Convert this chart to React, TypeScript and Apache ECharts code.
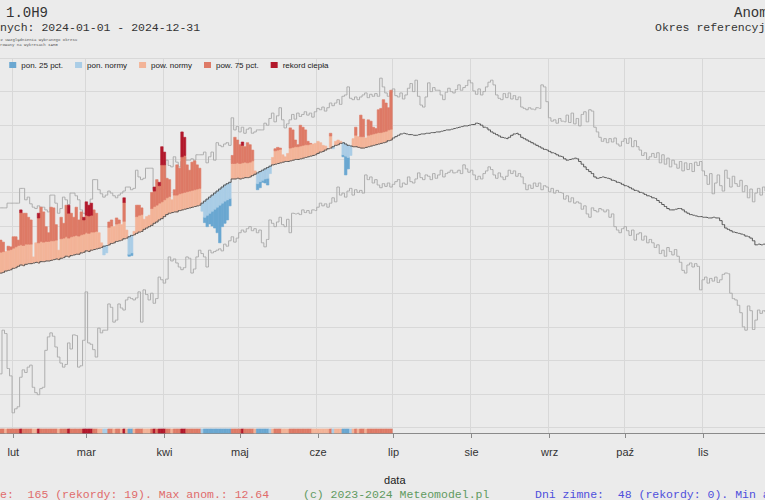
import React, { useEffect, useRef } from "react";
import * as echarts from "echarts";

// ---------- data ----------
const MONTHS = ["sty", "lut", "mar", "kwi", "maj", "cze", "lip", "sie", "wrz", "paź", "lis", "gru"];
const LINE_START = 24; // day index of first value (0 = 2024-01-01)
const DATA_START = 24;

// climatological normal (dark line), °C
const NORMAL = [
  -2.2, -2.1, -2.0, -1.9, -1.7, -1.6, -1.5, -1.3, -1.2, -1.0,
  -0.8, -0.9, -0.7, -0.6, -0.6, -0.5, -0.4, -0.5, -0.3, -0.3,
  -0.2, -0.2, -0.1, 0.0, 0.1, 0.0, 0.2, 0.3, 0.5, 0.4,
  0.6, 0.7, 0.8, 0.8, 1.0, 1.1, 1.3, 1.2, 1.4, 1.5,
  1.6, 1.7, 1.8, 2.0, 2.1, 2.2, 2.4, 2.5, 2.7, 2.8,
  2.9, 3.1, 3.2, 3.4, 3.6, 3.7, 3.9, 4.1, 4.2, 4.5,
  4.7, 4.9, 5.1, 5.4, 5.6, 5.9, 6.1, 6.4, 6.7, 6.9,
  7.0, 7.1, 7.1, 7.3, 7.4, 7.5, 7.6, 7.7, 7.8, 7.9,
  8.0, 8.1, 8.4, 8.7, 9.0, 9.3, 9.6, 9.9, 10.2, 10.5,
  10.8, 11.1, 11.3, 11.5, 12.0, 12.0, 12.1, 12.0, 12.1, 12.2,
  12.2, 12.3, 12.5, 12.7, 12.9, 13.1, 13.3, 13.5, 13.7, 13.9,
  14.1, 14.2, 14.3, 14.4, 14.5, 14.6, 14.6, 14.7, 14.8, 14.9,
  14.9, 15.0, 15.1, 15.2, 15.3, 15.4, 15.5, 15.6, 15.8, 16.0,
  16.1, 16.3, 16.5, 16.6, 16.8, 17.0, 17.1, 17.3, 17.4, 17.2,
  17.0, 16.9, 16.8, 16.8, 16.7, 16.6, 16.6, 16.7, 16.8, 16.9,
  17.0, 17.1, 17.2, 17.3, 17.4, 17.5, 17.7, 17.8, 18.1, 18.3,
  18.5, 18.7, 18.8, 18.7, 18.6, 18.6, 18.5, 18.5, 18.6, 18.7,
  18.7, 18.8, 18.8, 18.9, 18.9, 19.0, 19.0, 19.1, 19.2, 19.3,
  19.3, 19.4, 19.5, 19.6, 19.7, 19.8, 19.9, 19.9, 20.0, 20.1,
  20.1, 20.3, 20.2, 20.0, 19.7, 19.6, 19.3, 19.0, 18.8, 18.6,
  18.4, 18.2, 18.1, 18.0, 18.2, 18.5, 18.7, 18.8, 18.6, 18.2,
  18.0, 17.8, 17.6, 17.4, 17.2, 17.0, 16.8, 16.6, 16.4, 16.3,
  16.1, 15.9, 15.8, 15.6, 15.4, 15.3, 15.0, 14.8, 14.9, 15.0,
  15.1, 15.0, 14.6, 14.2, 13.8, 13.4, 13.1, 12.8, 12.3, 12.1,
  12.2, 12.3, 12.2, 12.1, 12.0, 11.8, 11.7, 11.5, 11.4, 11.2,
  11.0, 10.9, 10.7, 10.5, 10.3, 10.2, 10.0, 9.9, 9.7, 9.5,
  9.4, 9.2, 9.1, 8.8, 8.5, 8.2, 7.9, 7.6, 7.4, 7.4,
  7.5, 7.6, 7.6, 7.4, 7.1, 6.9, 6.7, 6.6, 6.5, 6.4,
  6.4, 6.3, 6.3, 6.2, 6.2, 6.3, 6.2, 6.2, 5.8, 5.2,
  4.7, 4.5, 4.3, 4.1, 4.0, 3.9, 3.8, 3.7, 3.5, 3.4,
  3.2, 2.8, 2.2, 2.3, 2.2, 2.3, 2.2,
];

// upper grey line (daily maximum of reference period), °C
const UPPER = [
  7.5, 7.7, 7.7, 7.7, 7.7, 8.4, 8.4, 8.4, 8.4, 8.4,
  10.6, 10.6, 8.9, 9.3, 8.3, 7.8, 7.6, 8.0, 7.8, 7.8,
  7.4, 7.1, 9.6, 9.6, 8.4, 6.9, 7.6, 9.3, 8.9, 8.2,
  9.9, 9.9, 9.5, 8.9, 7.4, 6.9, 6.9, 7.6, 9.0, 11.9,
  11.9, 10.4, 9.8, 9.3, 9.6, 10.2, 9.9, 9.5, 9.2, 9.6,
  9.9, 10.2, 10.8, 10.8, 10.4, 10.6, 13.3, 12.3, 11.9, 12.1,
  13.6, 13.6, 13.6, 10.4, 10.4, 10.6, 10.4, 10.5, 14.8, 14.0,
  13.8, 15.3, 14.5, 13.8, 14.6, 15.3, 14.8, 14.8, 15.0, 14.8,
  15.6, 15.6, 15.6, 16.0, 14.4, 15.3, 16.0, 14.8, 17.4, 17.0,
  16.8, 17.2, 17.4, 17.0, 21.1, 19.3, 19.8, 19.0, 19.7, 18.8,
  19.4, 19.6, 18.8, 19.0, 19.3, 19.3, 19.3, 20.3, 20.0, 21.0,
  21.8, 20.5, 21.4, 22.6, 20.8, 19.6, 20.2, 20.8, 21.6, 20.9,
  21.8, 21.3, 21.6, 22.0, 21.5, 21.8, 21.2, 22.0, 22.5, 22.3,
  22.7, 22.1, 22.6, 23.3, 22.9, 23.3, 23.8, 23.1, 24.3, 24.5,
  25.7, 24.0, 23.8, 24.2, 23.8, 24.2, 24.5, 24.8, 24.1, 24.6,
  24.3, 24.7, 24.3, 27.0, 25.7, 24.8, 24.3, 24.9, 25.4, 24.4,
  24.2, 24.8, 23.9, 24.5, 25.5, 26.2, 25.0, 26.7, 24.3, 23.0,
  22.7, 24.2, 26.3, 25.0, 25.6, 25.2, 25.2, 24.5, 23.8, 24.9,
  25.5, 25.0, 24.8, 25.3, 26.0, 25.2, 25.6, 25.9, 26.7, 26.3,
  25.1, 24.6, 25.4, 24.5, 25.0, 25.7, 26.4, 26.7, 26.0, 24.5,
  24.0, 23.8, 24.7, 24.1, 24.8, 23.9, 24.4, 23.8, 24.2, 22.7,
  22.5, 22.3, 22.6, 22.4, 22.3, 22.6, 22.5, 26.0, 25.7, 23.5,
  21.1, 20.6, 20.8, 20.3, 21.0, 20.6, 20.5, 21.5, 20.4, 21.8,
  20.2, 21.0, 19.9, 21.6, 22.0, 20.5, 22.3, 22.1, 19.7, 19.0,
  18.2, 17.6, 18.0, 17.4, 18.0, 17.5, 18.1, 17.2, 16.9, 17.6,
  18.0, 17.3, 18.1, 16.8, 17.7, 16.8, 16.3, 15.5, 15.9, 14.9,
  15.3, 15.8, 15.2, 15.9, 14.4, 15.6, 14.2, 15.1, 13.8, 14.8,
  14.2, 13.6, 14.6, 13.2, 14.4, 13.4, 14.3, 13.1, 14.5, 14.0,
  14.6, 13.2, 12.5, 11.2, 12.8, 9.8, 11.4, 12.6, 11.0, 10.2,
  13.3, 12.1, 10.8, 12.4, 11.3, 10.9, 11.8, 10.1, 11.0, 9.2,
  10.5, 8.6, 9.9, 10.6, 9.6, 10.8, 10.2,
];

// lower grey line (daily minimum of reference period), °C
const LOWER = [
  -16.0, -15.2, -17.0, -10.5, -11.0, -16.2, -17.3, -22.8, -22.2, -21.9,
  -17.5, -16.4, -16.8, -16.0, -15.7, -19.0, -19.8, -20.1, -19.2, -19.0,
  -13.5, -11.5, -10.9, -11.4, -13.0, -14.5, -15.4, -16.0, -15.6, -12.4,
  -13.3, -11.2, -11.3, -16.0, -15.8, -12.0, -4.8, -12.4, -12.6, -13.4,
  -14.5, -10.2, -10.9, -10.5, -10.5, -6.6, -7.1, -9.3, -9.0, -6.6,
  -7.2, -7.5, -6.0, -5.6, -5.8, -6.0, -5.7, -4.8, -9.3, -4.5,
  -5.2, -6.0, -5.0, -6.5, -5.8, -2.6, -3.0, -3.5, -2.9, 0.4,
  -0.2, 0.1, -0.5, -1.1, -1.5, -1.2, 0.4, 0.2, -2.0, -1.4,
  0.4, 1.4, 0.9, 0.4, -1.1, 1.4, 1.0, 1.2, 1.4, 1.6,
  1.3, 2.3, 2.0, 2.8, 3.4, 2.6, 3.2, 4.0, 4.4, 4.1,
  4.6, 4.9, 4.3, 4.6, 4.0, 4.4, 2.5, 1.9, 3.0, 5.9,
  5.4, 4.9, 5.6, 6.3, 5.2, 4.9, 6.0, 4.0, 6.9, 6.8,
  6.9, 6.7, 7.4, 7.0, 7.3, 6.9, 7.4, 7.3, 7.8, 8.4,
  8.0, 8.3, 7.8, 8.4, 9.2, 8.6, 10.8, 9.6, 9.9, 9.3,
  10.2, 10.6, 9.6, 10.4, 10.0, 10.3, 9.9, 12.6, 11.9, 12.3,
  11.4, 11.9, 11.1, 10.7, 11.3, 10.9, 11.4, 10.8, 11.2, 11.6,
  11.9, 10.8, 11.4, 11.2, 12.3, 11.6, 11.4, 12.0, 12.9, 12.2,
  11.9, 12.6, 12.4, 11.9, 12.8, 12.1, 12.6, 13.3, 12.3, 12.8,
  13.0, 13.3, 12.9, 13.0, 13.3, 12.8, 14.1, 13.5, 13.0, 13.3,
  12.6, 11.9, 12.4, 12.0, 12.8, 13.2, 13.8, 13.4, 12.6, 12.1,
  12.9, 12.3, 11.9, 12.4, 13.3, 12.8, 13.2, 12.4, 12.8, 12.3,
  11.3, 10.4, 11.1, 10.6, 11.4, 10.9, 11.4, 10.4, 11.0, 10.8,
  10.1, 10.6, 9.9, 10.3, 10.0, 9.9, 9.0, 9.5, 8.6, 9.2,
  8.4, 8.6, 8.4, 7.5, 8.0, 6.8, 6.3, 7.7, 7.3, 7.1,
  7.6, 7.4, 7.1, 7.4, 6.3, 6.8, 4.9, 4.4, 4.0, 4.6,
  4.9, 4.3, 3.6, 4.4, 2.9, 3.8, 4.0, 2.9, 3.5, 2.5,
  3.0, 2.5, 1.8, 2.2, 0.9, 1.4, 0.5, 1.8, 1.2, 0.7,
  1.5, 0.5, -0.4, -1.6, -2.0, -0.8, -0.5, -1.1, -0.6, -1.0,
  -4.5, -3.0, -2.6, -3.5, -2.8, -3.2, -2.6, -3.4, -3.0, -2.2,
  -2.0, -2.1, -5.0, -5.8, -6.0, -6.8, -7.9, -10.0, -10.5, -6.9,
  -7.6, -10.4, -9.0, -7.5, -8.0, -7.6, -7.8,
];

// observed daily mean temperature 2024, °C
const TEMP = [
  2.0, 3.0, 2.9, 2.6, 1.2, 2.0, 1.9, 3.4, 3.4, 2.9,
  7.4, 6.9, 6.9, 6.3, 5.9, 0.4, 2.5, 6.9, 7.8, 7.1,
  4.9, 4.0, 7.8, 7.7, 5.2, 1.4, 6.3, 5.4, 8.1, 8.1,
  6.9, 6.3, 7.8, 5.9, 7.1, 6.3, 8.6, 8.1, 8.4, 7.4,
  6.9, 4.0, 2.5, 0.7, 1.0, 5.6, 5.9, 4.9, 6.2, 5.9,
  5.2, 9.2, 4.4, 0.5, 0.6, 4.2, 8.1, 8.1, 7.7, 6.0,
  6.4, 6.6, 10.0, 10.8, 11.9, 11.5, 16.8, 16.0, 12.1, 11.9,
  8.9, 10.4, 14.1, 13.6, 19.0, 18.2, 14.1, 13.3, 14.5, 14.7,
  14.1, 13.6, 7.2, 5.5, 4.9, 5.3, 5.0, 4.7, 4.0, 2.5,
  4.9, 5.4, 5.9, 8.0, 15.5, 18.2, 17.8, 17.1, 17.5, 16.8,
  17.4, 17.1, 16.3, 13.2, 10.4, 10.7, 11.5, 11.4, 11.1, 12.8,
  15.2, 16.5, 16.7, 16.6, 15.6, 15.3, 15.8, 19.6, 19.3, 17.8,
  17.1, 20.0, 19.7, 19.3, 17.6, 17.3, 17.2, 17.3, 17.6, 17.4,
  17.0, 16.9, 16.5, 18.8, 16.5, 17.6, 17.8, 17.6, 15.3, 12.6,
  13.5, 15.5, 18.0, 19.7, 18.3, 21.5, 20.9, 18.1, 20.8, 20.6,
  19.7, 19.5, 22.3, 22.5, 23.8, 23.3, 22.6, 25.2,
];

// half-width of the normal range (distance from normal to the 25/75 percentile), °C
const BAND = [
  3.2, 3.2, 3.1, 3.1, 3.1, 3.0, 3.0, 3.0, 3.1, 3.1,
  3.0, 3.0, 3.0, 2.9, 2.9, 2.9, 3.0, 3.0, 3.0, 2.9,
  2.9, 2.9, 2.9, 2.8, 2.8, 2.8, 2.9, 2.9, 2.9, 2.8,
  2.8, 2.8, 2.8, 2.7, 2.7, 2.7,
  2.7, 2.7, 2.7, 2.6, 2.6, 2.6, 2.6, 2.6, 2.6, 2.6,
  2.6, 2.6, 2.6, 2.6, 2.6, 2.6, 2.6, 2.6, 2.6, 2.6,
  2.5, 2.5, 2.5, 2.5, 2.5, 2.5, 2.5, 2.5, 2.5, 2.5,
  2.5,
  2.5, 2.5, 2.5, 2.5, 2.5, 2.5, 2.5, 2.5, 2.5, 2.5,
  2.5, 2.5, 2.5, 2.5, 2.5, 2.4, 2.4, 2.4, 2.4, 2.4,
  2.4, 2.4, 2.4, 2.4, 2.4, 2.4, 2.4, 2.3, 2.3, 2.3,
  2.3, 2.3, 2.3, 2.2, 2.2, 2.2, 2.1, 1.6, 1.5, 1.5,
  1.5, 1.6, 1.8, 2.0, 2.0, 2.0, 2.0, 2.0, 2.0, 2.0,
  1.9, 1.9, 1.9, 1.9, 1.9, 1.9, 1.9, 1.8, 1.8, 1.8,
  1.8,
  1.8, 1.8, 1.8, 1.8, 1.8, 1.8, 1.8, 1.8, 1.8, 1.8,
  1.8, 1.8, 1.8, 1.8, 1.8, 1.7, 1.7, 1.7, 1.7, 1.7,
  1.7, 1.7, 1.7, 1.7, 1.7, 1.6, 1.6, 1.6, 1.6, 1.6,
];

// record-warm days and the record level that was exceeded
const REC_DAYS = [34, 41, 53, 59, 60, 61, 62, 75, 87, 89, 90, 91, 98, 99, 122];
const REC_LEVEL = [7.0, 6.2, 6.9, 5.9, 6.6, 6.5, 6.6, 8.5, 10.2, 11.0, 14.1, 14.1, 15.3, 15.5, 17.0];

const LEGEND = ["rekord zimna", "pon. 25 pct.", "pon. normy", "pow. normy", "pow. 75 pct.", "rekord ciepła"];
const COLORS = ["#24508f", "#6aa7d1", "#aacde6", "#f3b498", "#de7a66", "#b2182b"];

// ---------- layout ----------
const BG = "#ebebeb";
const GRIDC = "#d8d8d8";
const OFFX = 140;
const DIV_W = 1040;
const Y_MIN = -25.8;
const Y_MAX = 30;
const MONO = "Liberation Mono";
const SANS = "Liberation Sans";

const categories: string[] = [];
for (let i = 0; i < 366; i++) {
  const dt = new Date(Date.UTC(2024, 0, 1 + i));
  categories.push(dt.toISOString().slice(0, 10));
}
const isMonthStart = (_i: number, v: string) => v.slice(8, 10) === "01";

function buildSegments() {
  const segs: number[][][] = LEGEND.map(() => []);
  const strip: number[][] = [];
  for (let i = 0; i < TEMP.length; i++) {
    const d = DATA_START + i;
    const n = NORMAL[d - LINE_START];
    const t = TEMP[i];
    const b = BAND[i];
    const ri = REC_DAYS.indexOf(d);
    const rec = ri >= 0 ? REC_LEVEL[ri] : null;
    let cat: number;
    if (t >= n) {
      const p75 = n + b;
      segs[3].push([d, n, Math.min(t, p75)]);
      if (t > p75) {
        const top = rec !== null ? Math.max(p75, rec) : t;
        segs[4].push([d, p75, Math.min(t, top)]);
      }
      if (rec !== null) segs[5].push([d, Math.max(rec, n), t]);
      cat = rec !== null ? 5 : t > p75 ? 4 : 3;
    } else {
      const p25 = n - b;
      segs[2].push([d, Math.max(t, p25), n]);
      if (t < p25) segs[1].push([d, t, p25]);
      cat = t < p25 ? 1 : 2;
    }
    strip.push([d, cat]);
  }
  return { segs, strip };
}

const barRender = (_params: any, api: any) => {
  const d = api.value(0);
  const top = api.coord([d, api.value(2)]);
  const bot = api.coord([d, api.value(1)]);
  const w = api.size([1, 0])[0];
  const c = api.visual("color");
  return {
    type: "rect",
    shape: { x: top[0] - w / 2, y: top[1], width: w, height: Math.max(0, bot[1] - top[1]) },
    style: { fill: c, stroke: c, lineWidth: 0.6 },
  };
};

const stripRender = (_params: any, api: any) => {
  const d = api.value(0);
  const top = api.coord([d, Y_MIN + 0.6]);
  const bot = api.coord([d, Y_MIN]);
  const w = api.size([1, 0])[0];
  const c = COLORS[api.value(1)];
  return {
    type: "rect",
    shape: { x: top[0] - w / 2, y: top[1], width: w, height: bot[1] - top[1] },
    style: { fill: c, stroke: c, lineWidth: 0.6 },
  };
};

function txt(text: string, x: number, y: number, size: number, fill: string, family = MONO) {
  return {
    type: "text",
    x: x + OFFX,
    y,
    silent: true,
    style: { text, fontSize: size, fontFamily: family, fill, verticalAlign: "middle", textVerticalAlign: "middle" },
  };
}

function buildOption() {
  const { segs, strip } = buildSegments();
  const lineData = (arr: number[]) => arr.map((v, i) => [LINE_START + i, v]);
  const barSeries = LEGEND.map((name, k) => ({
    name,
    type: "custom",
    renderItem: barRender,
    data: segs[k],
    encode: { x: 0, y: [1, 2] },
    itemStyle: { color: COLORS[k] },
    z: 3,
    silent: true,
  }));
  return {
    animation: false,
    backgroundColor: BG,
    textStyle: { fontFamily: SANS },
    grid: { left: 74, right: DIV_W - 74 - 921.6, top: 58, bottom: 67, outerBoundsMode: "none" },
    legend: {
      data: LEGEND,
      left: 79,
      top: 61,
      padding: 0,
      itemWidth: 7,
      itemHeight: 6,
      itemGap: 12,
      icon: "rect",
      selectedMode: false,
      textStyle: { fontSize: 8, color: "#1a1a1a", fontFamily: SANS },
    },
    xAxis: {
      type: "category",
      data: categories,
      boundaryGap: true,
      name: "data",
      nameLocation: "middle",
      nameGap: 41,
      nameTextStyle: { fontSize: 11, color: "#1a1a1a", fontFamily: SANS },
      axisLine: { show: true, onZero: false, lineStyle: { color: "#8a8a8a", width: 1 } },
      axisTick: { show: true, alignWithLabel: true, interval: isMonthStart, length: 5, lineStyle: { color: "#8a8a8a" } },
      axisLabel: {
        interval: isMonthStart,
        formatter: (v: string) => MONTHS[parseInt(v.slice(5, 7), 10) - 1],
        fontSize: 11,
        color: "#333",
        margin: 13,
        fontFamily: SANS,
      },
      splitLine: { show: true, interval: isMonthStart, lineStyle: { color: GRIDC, width: 1 } },
    },
    yAxis: {
      type: "value",
      min: Y_MIN,
      max: Y_MAX,
      splitNumber: 11,
      axisLine: { show: false },
      axisTick: { show: false },
      axisLabel: { show: false },
      splitLine: { show: true, lineStyle: { color: GRIDC, width: 1 } },
    },
    graphic: [
      txt("1.0H9", 6, 13, 14, "#333"),
      txt("Zakres danych: 2024-01-01 - 2024-12-31", -62.1, 27, 11.5, "#333"),
      txt("Normy liczone bez uwzględnienia wybranego okresu", -38, 40, 4, "#555"),
      txt("Okres ignorowany na wykresach IAMG", -24, 44.5, 4, "#555"),
      txt("Anomalie", 734, 13, 14, "#333"),
      txt("Okres referencyjny: 1991-2020", 655, 27, 11.5, "#333"),
      txt("Dni ciepłe:  165 (rekordy: 19). Max anom.: 12.64", -62.1, 494, 11.5, "#e06b6b"),
      txt("(c) 2023-2024 Meteomodel.pl", 303, 494, 11.5, "#5f9a5f"),
      txt("Dni zimne:  48 (rekordy: 0). Min anom.: -6.67", 535, 494, 11.5, "#4f4fdc"),
    ],
    series: [
      {
        name: "maks",
        type: "line",
        data: lineData(UPPER),
        step: "middle",
        symbol: "none",
        lineStyle: { color: "#adadad", width: 1 },
        z: 1,
        silent: true,
      },
      {
        name: "min",
        type: "line",
        data: lineData(LOWER),
        step: "middle",
        symbol: "none",
        lineStyle: { color: "#adadad", width: 1 },
        z: 1,
        silent: true,
      },
      ...barSeries,
      {
        name: "pasek",
        type: "custom",
        renderItem: stripRender,
        data: strip,
        encode: { x: 0, y: 1 },
        z: 3,
        silent: true,
      },
      {
        name: "norma",
        type: "line",
        data: lineData(NORMAL),
        step: "middle",
        symbol: "none",
        lineStyle: { color: "#555555", width: 1 },
        z: 5,
        silent: true,
      },
    ],
  };
}

export default function App() {
  const ref = useRef<HTMLDivElement>(null);
  useEffect(() => {
    if (!ref.current) return;
    const chart = echarts.init(ref.current, undefined, { renderer: "svg" });
    chart.setOption(buildOption() as any);
    return () => chart.dispose();
  }, []);
  return (
    <div
      style={{
        position: "fixed",
        left: 0,
        top: 0,
        width: 765,
        height: 500,
        overflow: "hidden",
        background: BG,
      }}
    >
      <div ref={ref} style={{ position: "absolute", left: -OFFX, top: 0, width: DIV_W, height: 500 }} />
    </div>
  );
}
